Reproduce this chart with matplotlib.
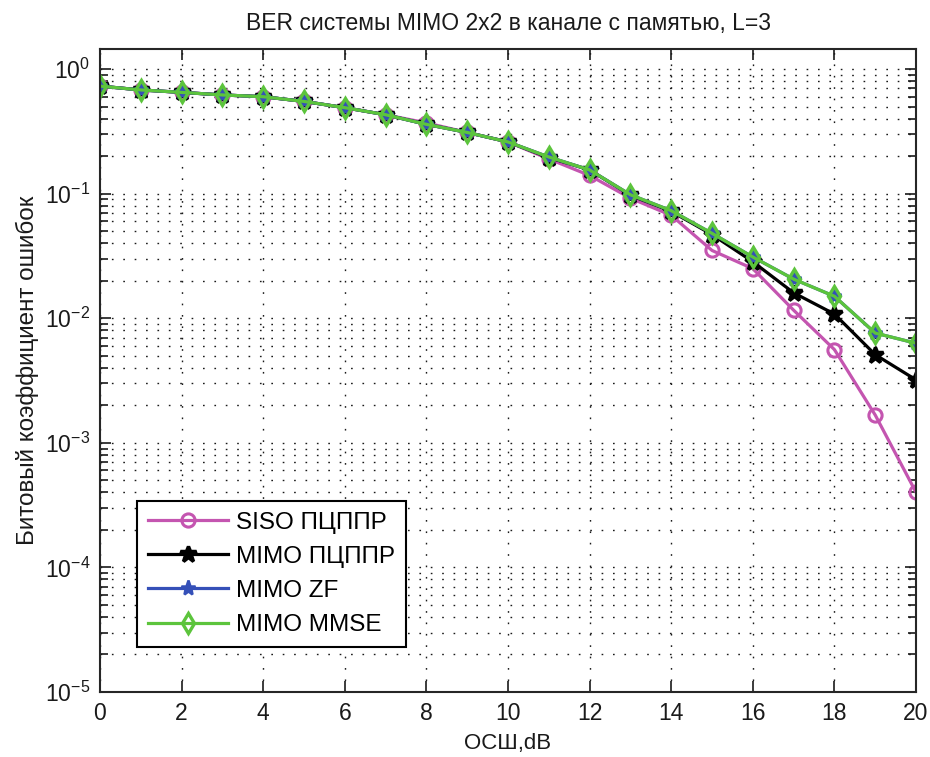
import numpy as np
import matplotlib
matplotlib.use('Agg')
import matplotlib.pyplot as plt
from matplotlib.ticker import LogLocator, NullFormatter, FixedLocator

plt.rcParams['font.family'] = ['Liberation Sans', 'DejaVu Sans']
plt.rcParams['mathtext.default'] = 'regular'

# ОСШ, дБ
snr = np.arange(0, 21)

siso_ofdm = [0.73, 0.68, 0.65, 0.62, 0.60, 0.55, 0.49, 0.43, 0.37, 0.31, 0.26,
             0.19, 0.14, 0.092, 0.067, 0.035, 0.025, 0.0116, 0.0056, 0.00167, 0.0004]
mimo_ofdm = [0.73, 0.68, 0.65, 0.62, 0.60, 0.55, 0.49, 0.43, 0.36, 0.31, 0.26,
             0.195, 0.155, 0.097, 0.072, 0.047, 0.0284, 0.016, 0.0108, 0.0051, 0.0032]
mimo_zf = [0.73, 0.68, 0.65, 0.62, 0.60, 0.55, 0.49, 0.43, 0.36, 0.31, 0.26,
           0.197, 0.155, 0.098, 0.073, 0.048, 0.031, 0.0206, 0.015, 0.0076, 0.0063]
mimo_mmse = [0.73, 0.68, 0.65, 0.62, 0.60, 0.55, 0.49, 0.43, 0.36, 0.31, 0.26,
             0.197, 0.155, 0.098, 0.073, 0.048, 0.031, 0.0206, 0.015, 0.0076, 0.0063]

labels = ['SISO ПЦППР', 'MIMO ПЦППР', 'MIMO ZF', 'MIMO MMSE']

fig = plt.figure(figsize=(9.3, 7.57), dpi=100)
ax = fig.add_axes([0.1075, 0.0859, 0.8775, 0.8494])

lw = 2.3
ax.semilogy(snr, siso_ofdm, '-o', color='#c455b0', lw=lw, ms=9.5,
            mfc='none', mew=2.2, label=labels[0])
ax.semilogy(snr, mimo_ofdm, '-*', color='black', lw=lw, ms=12,
            mew=2.5, label=labels[1])
ax.semilogy(snr, mimo_zf, '-*', color='#3550b8', lw=lw, ms=11,
            mew=1.8, label=labels[2])
ax.semilogy(snr, mimo_mmse, '-d', color='#5cc43c', lw=lw, ms=10,
            mfc='none', mew=2.4, label=labels[3])

ax.set_xlim(0, 20)
ax.set_ylim(1e-5, 1.45)
ax.xaxis.set_major_locator(FixedLocator(np.arange(0, 21, 2)))
ax.yaxis.set_major_locator(LogLocator(base=10, numticks=10))
ax.yaxis.set_minor_locator(LogLocator(base=10, subs=np.arange(2, 10), numticks=20))
ax.yaxis.set_minor_formatter(NullFormatter())

dots = (0, (1.2, 7))
ax.grid(True, which='major', axis='both', color='0.1', lw=1.0, linestyle=dots)
ax.grid(True, which='minor', axis='y', color='0.1', lw=1.0, linestyle=dots)

ax.tick_params(which='both', direction='in', top=True, right=True,
               labelsize=16.5, width=1.2, colors='0.1')
ax.tick_params(which='major', length=8, pad=7)
ax.tick_params(which='minor', length=6)
for s in ax.spines.values():
    s.set_linewidth(1.5)
    s.set_color('0.15')

ax.set_title('BER системы MIMO 2x2 в канале с памятью, L=3', fontsize=16.5,
             color='0.1', pad=14)
ax.set_xlabel('ОСШ,dB', fontsize=16, color='0.1', labelpad=6)
ax.set_ylabel('Битовый коэффициент ошибок', fontsize=17.5, color='0.1', labelpad=4)

leg = ax.legend(loc='lower left', bbox_to_anchor=(0.045, 0.07), fontsize=17.5,
                handlelength=3.3, handletextpad=0.35, labelspacing=0.5,
                borderpad=0.45, fancybox=False, framealpha=1, borderaxespad=0)
leg.get_frame().set_edgecolor('black')
leg.get_frame().set_linewidth(1.5)

fig.savefig('out.png', dpi=100)
